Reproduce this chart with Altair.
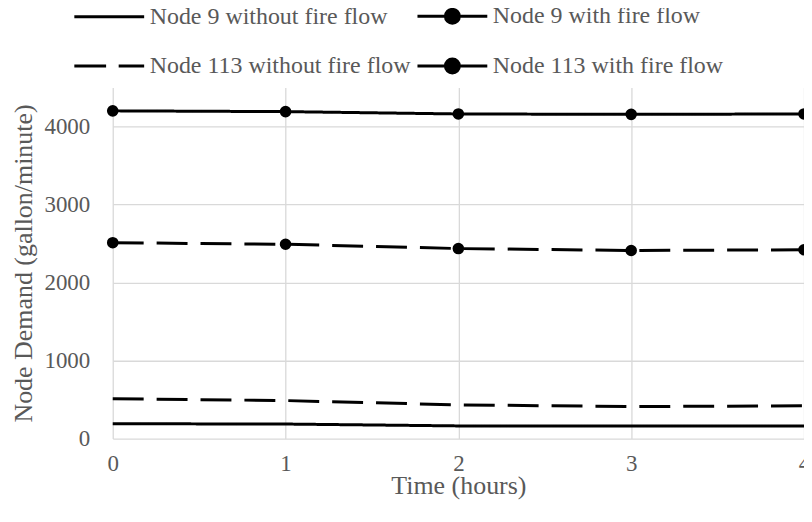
import altair as alt
import pandas as pd

hours = [0, 1, 2, 3, 4]
series_names = [
    "Node 9 without fire flow",
    "Node 9 with fire flow",
    "Node 113 without fire flow",
    "Node 113 with fire flow",
]
node9_without = [190, 186, 162, 160, 160]
node9_with = [4200, 4190, 4160, 4155, 4160]
node113_without = [510, 487, 432, 410, 420]
node113_with = [2510, 2490, 2435, 2410, 2420]

y_ticks = [0, 500, 1000, 1500, 2000, 2500, 3000, 3500, 4000, 4500]

values = [node9_without, node9_with, node113_without, node113_with]
rows = []
for name, vals in zip(series_names, values):
    for h, v in zip(hours, vals):
        rows.append({"hour": h, "demand": v, "series": name, "legend_series": name})
df = pd.DataFrame(rows)

dash_range = [[1, 0], [1, 0], [31, 13], [31, 13]]
legend_paths = [
    "M-1,0L1,0",
    "M-1,0L1,0M-0.2,0A0.2,0.2,0,1,0,0.2,0A0.2,0.2,0,1,0,-0.2,0Z",
    "M-1,0L-0.09,0M0.27,0L1,0",
    "M-1,0L1,0M-0.2,0A0.2,0.2,0,1,0,0.2,0A0.2,0.2,0,1,0,-0.2,0Z",
]

FONT = "Liberation Serif"
GRAY = "#595959"

x_enc = alt.X(
    "hour:Q",
    scale=alt.Scale(domain=[0, 4], nice=False),
    axis=alt.Axis(
        values=hours, format="d", title="Time (hours)", grid=True, ticks=False,
        domain=False, labelPadding=14, titlePadding=-3, labelFlush=False,
        labelOverlap=False,
    ),
)
y_enc = alt.Y(
    "demand:Q",
    scale=alt.Scale(domain=[0, 4500], nice=False),
    axis=alt.Axis(
        values=y_ticks, format="d", title="Node Demand (gallon/minute)", grid=True,
        ticks=False, domain=False, labelPadding=23, titlePadding=7,
        labelOverlap=False, labelFlush=False,
    ),
)

lines = alt.Chart(df).mark_line(strokeWidth=3, color="black").encode(
    x=x_enc,
    y=y_enc,
    detail="series:N",
    strokeDash=alt.StrokeDash(
        "series:N",
        scale=alt.Scale(domain=series_names, range=dash_range),
        legend=None,
    ),
)

points = (
    alt.Chart(df)
    .transform_filter(alt.FieldOneOfPredicate(field="series", oneOf=[series_names[1], series_names[3]]))
    .mark_point(filled=True, size=135, color="black", opacity=1)
    .encode(x="hour:Q", y="demand:Q")
)

legend_layer = alt.Chart(df).mark_point(
    filled=True, fill="black", stroke="black", strokeWidth=3, opacity=0
).encode(
    x="hour:Q",
    y="demand:Q",
    shape=alt.Shape(
        "legend_series:N",
        scale=alt.Scale(domain=series_names, range=legend_paths),
        legend=alt.Legend(
            title=None,
            orient="none",
            direction="horizontal",
            legendX=-40,
            legendY=-108,
            columns=2,
            columnPadding=0,
            rowPadding=-5,
            symbolSize=4900,
            symbolStrokeWidth=3,
            symbolOpacity=1,
            labelOffset=4,
            labelLimit=500,
            labelFont=FONT,
            labelFontSize=24,
            labelColor=GRAY,
            padding=0,
        ),
    ),
)

chart = (
    alt.layer(lines, points, legend_layer)
    .resolve_legend(shape="independent", strokeDash="independent")
    .properties(
        width=693,
        height=352,
        autosize=alt.AutoSizeParams(type="none"),
        padding={"left": 105, "top": 79, "right": 0, "bottom": 75},
    )
    .configure_view(stroke=None)
    .configure_axis(
        labelFont=FONT,
        titleFont=FONT,
        labelFontSize=23,
        titleFontSize=26,
        titleFontWeight="normal",
        labelColor=GRAY,
        titleColor=GRAY,
        gridColor="#d9d9d9",
        gridWidth=1.3,
    )
)

chart.save("out.html", embed_options={"renderer": "svg", "actions": False})
